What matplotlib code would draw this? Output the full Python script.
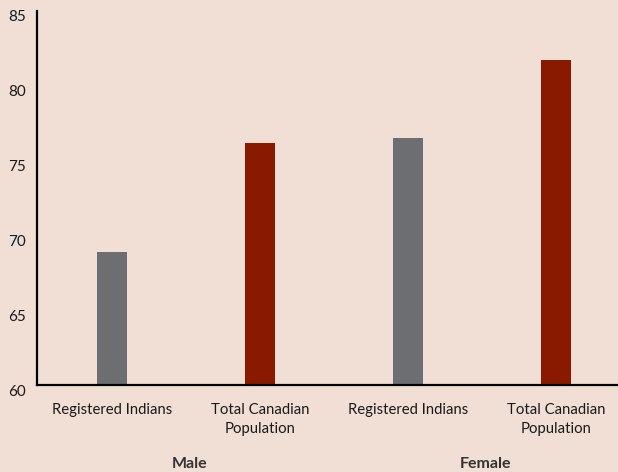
import matplotlib.pyplot as plt
import matplotlib.transforms as mtransforms
import numpy as np

plt.rcParams['font.family'] = ['Lato', 'DejaVu Sans']

# data
groups = ['Male', 'Female']
categories = ['Registered Indians', 'Total Canadian\nPopulation',
              'Registered Indians', 'Total Canadian\nPopulation']
life_exp = [68.9, 76.2, 76.5, 81.7]
bar_colors = ['#6d6e71', '#891a00', '#6d6e71', '#891a00']
yticks = [60, 65, 70, 75, 80, 85]

bg = '#f1dfd6'
fig = plt.figure(figsize=(6.18, 4.72), dpi=100, facecolor=bg)
ax = fig.add_axes([37 / 618, 1 - 385 / 472, (631 - 37) / 618, (385 - 11) / 472])
ax.set_facecolor(bg)

x = np.arange(len(categories))
ax.bar(x, np.array(life_exp) - 60, bottom=60, width=0.203, color=bar_colors)

ax.set_ylim(60, 85)
ax.set_xlim(-0.507, 3.507)
ax.set_yticks(yticks)
ax.set_xticks(x)
ax.set_xticklabels(categories, fontsize=10.7, color='#1a1a1a', linespacing=1.45)
ax.tick_params(axis='both', length=0)
ax.tick_params(axis='x', pad=13)
ax.tick_params(axis='y', pad=8, labelsize=11, labelcolor='#1a1a1a')

# shift y labels slightly down like the original
offset = mtransforms.ScaledTranslation(0, -5 / 100, fig.dpi_scale_trans)
for lbl in ax.get_yticklabels():
    lbl.set_transform(lbl.get_transform() + offset)

for side in ['top', 'right']:
    ax.spines[side].set_visible(False)
for side in ['left', 'bottom']:
    ax.spines[side].set_linewidth(1.6)
    ax.spines[side].set_color('black')

# group labels
for i, g in enumerate(groups):
    xc = (x[2 * i] + x[2 * i + 1]) / 2 + 0.025
    ax.text(xc, -0.21, g, transform=ax.get_xaxis_transform(), ha='center',
            va='center', fontsize=11.5, fontweight='bold', color='#333333')

fig.savefig('out.png', dpi=100, facecolor=bg)
